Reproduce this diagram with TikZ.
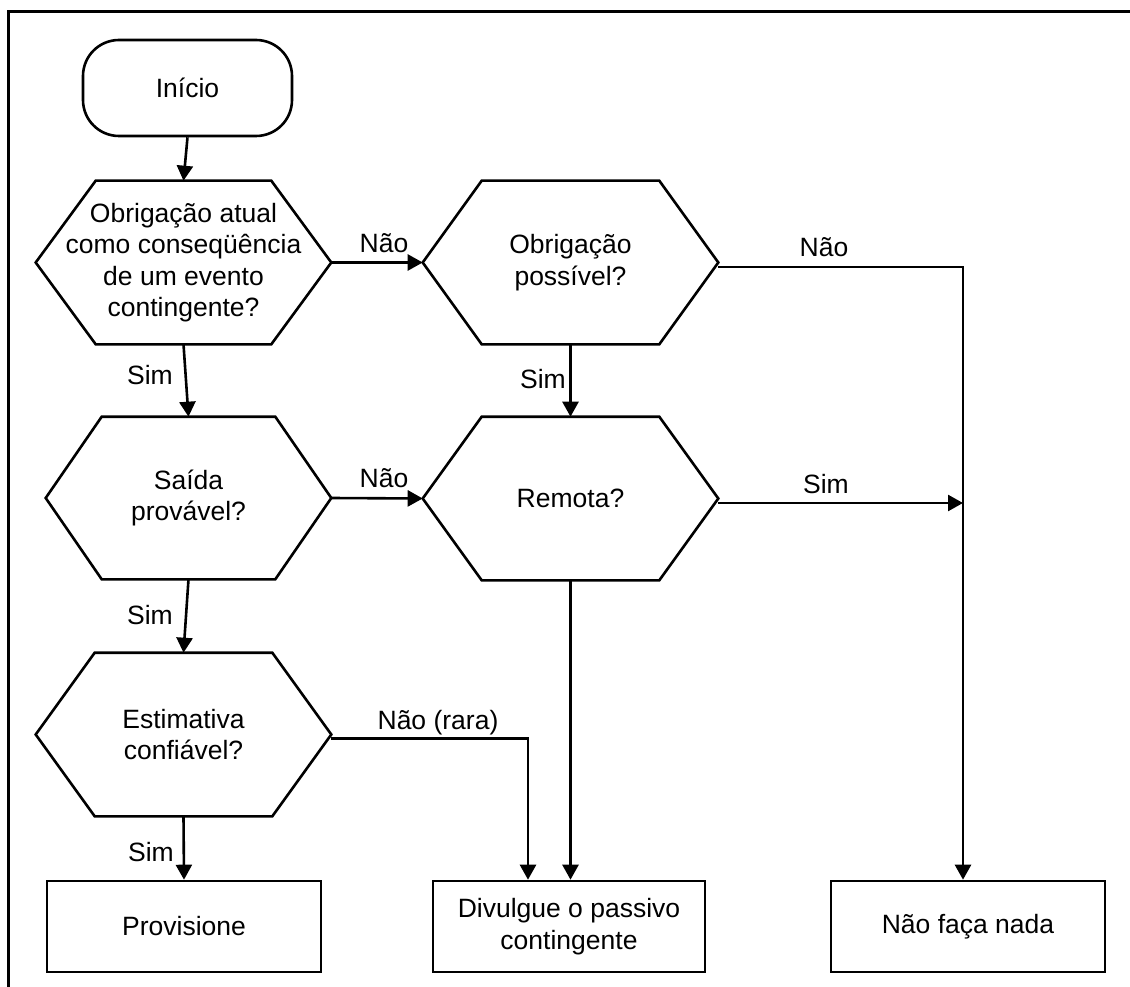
\documentclass[tikz,border=0pt]{standalone}
\usepackage{fontspec}
\setmainfont{Liberation Sans}
\usetikzlibrary{arrows.meta,calc}
\newcommand\drawhex[2]{\draw (#1.west) -- ([xshift=#2]#1.north west) -- ([xshift=-#2]#1.north east) -- (#1.east) -- ([xshift=-#2]#1.south east) -- ([xshift=#2]#1.south west) -- cycle;}
\begin{document}
\begin{tikzpicture}[x=1pt,y=-1pt, line width=2.6pt,
  every node/.style={font=\fontsize{26.5}{31.5}\selectfont},
  box/.style={draw, minimum width=#1, minimum height=91pt, inner sep=0pt, align=center},
  hexbase/.style={minimum width=#1, minimum height=161pt, inner sep=0pt, align=center},
  term/.style={draw, rounded corners=36pt, minimum width=209pt, minimum height=96pt, inner sep=0pt},
  lbl/.style={anchor=base, inner sep=0pt},
  arr/.style={-{Triangle[length=15pt,width=16pt]}}]
\useasboundingbox (0,0) rectangle (1130,987);
\draw[line width=3pt] (1130,12) -- (8,12) -- (8,987);

\node[term] (start) at (187.5,88) {Início};
\node[hexbase=293pt] (h1) at (183.5,262.5) {Obrigação atual\\como conseqüência\\de um evento\\contingente?};
\node[hexbase=293pt] (h2) at (570.5,262.5) {Obrigação\\possível?};
\node[hexbase=283pt, minimum height=160pt] (h3) at (188.5,498) {Saída\\provável?};
\node[hexbase=293pt] (h5) at (570.5,498.5) {Remota?};
\node[hexbase=293pt] (h4) at (183.5,734.5) {Estimativa\\confiável?};
\node[box=274pt] (prov) at (184,926.5) {Provisione};
\node[box=272pt] (div) at (569,926.5) {Divulgue o passivo\\contingente};
\node[box=274pt] (nada) at (968,926.5) {Não faça nada};

\drawhex{h1}{60pt}
\drawhex{h2}{59pt}
\drawhex{h3}{56pt}
\drawhex{h5}{59pt}
\drawhex{h4}{59pt}

\coordinate (c1) at (963,267);
\coordinate (c2) at (963,503);

\draw[arr] (start.south) -- (h1.north);
\draw[arr] (h1.east) -- (h2.west);
\draw[arr] (h1.south) -- (h3.north);
\draw[arr] (h2.south) -- (h5.north);
\draw[arr] (h3.east) -- (h5.west);
\draw[arr] (h3.south) -- (h4.north);
\draw[arr] (h4.south) -- (prov.north);
\draw[arr] ([yshift=-4pt]h4.east) -| ([xshift=-41pt]div.north);
\draw[arr] (h5.south) -- (h5.south |- div.north);
\draw[arr] ([yshift=-4.5pt]h2.east) -- (c1) -- (c1 |- nada.north);
\draw[arr] ([yshift=-4.5pt]h5.east) -- (c2);

\node[lbl] (l1) at (384,252) {Não};
\node[lbl] (l2) at (384,487) {Não};
\node[lbl] (l3) at (824,256) {Não};
\node[lbl] (l4) at (826,493) {Sim};
\node[lbl] (l5) at (150,384) {Sim};
\node[lbl] (l6) at (150,624) {Sim};
\node[lbl] (l7) at (151,861) {Sim};
\node[lbl] (l8) at (543,388) {Sim};
\node[lbl] (l9) at (438,729) {Não (rara)};
\end{tikzpicture}
\end{document}
